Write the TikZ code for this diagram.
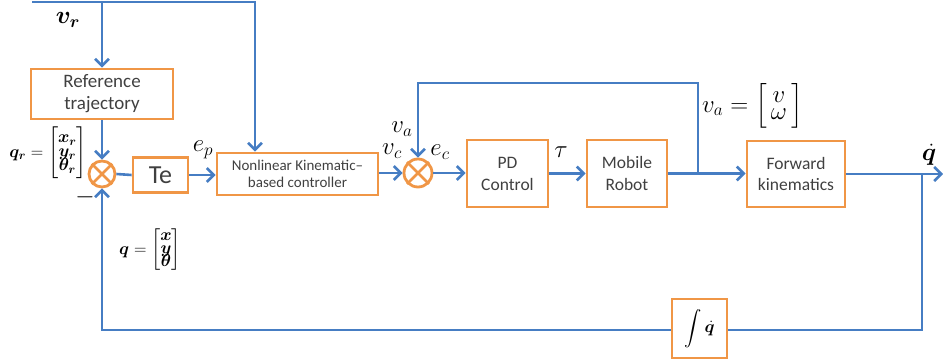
\documentclass[tikz,border=0pt]{standalone}
\usepackage{amsmath,bm}
\usepackage{fontspec}
\newfontfamily\boxfont{Carlito}
\usetikzlibrary{arrows.meta}
\definecolor{lnblue}{RGB}{70,125,195}
\definecolor{boxorange}{RGB}{240,150,70}
\definecolor{txtgray}{RGB}{64,64,64}
\tikzset{
  blk/.style={draw=boxorange,line width=2.8pt,rectangle,inner sep=0pt,align=center,text=txtgray,font=\boxfont},
  sumj/.style={draw=boxorange,line width=2.8pt,circle,inner sep=0pt,minimum size=26pt},
  wire/.style={draw=lnblue,line width=2.6pt},
  arr/.style={wire,-{Straight Barb[length=7pt,width=14pt,line width=2.6pt]}},
  lbl/.style={inner sep=0pt,font=\fontsize{23}{26}\selectfont}
}
\begin{document}
\begin{tikzpicture}[x=1pt,y=-1pt]
\useasboundingbox (0,0) rectangle (943,363);
% blocks
\node[blk,minimum width=142pt,minimum height=50pt,font=\boxfont\fontsize{19}{22}\selectfont] (ref) at (102,94) {Reference\\trajectory};
\node[sumj] (s1) at (102,174) {};
\node[blk,minimum width=55pt,minimum height=35pt,font=\boxfont\fontsize{26}{28}\selectfont] (te) at (160.5,175) {Te};
\node[blk,minimum width=161pt,minimum height=42pt,font=\boxfont\fontsize{15}{17}\selectfont] (nl) at (297.5,174) {Nonlinear Kinematic–\\based controller};
\node[sumj,minimum size=28pt] (s2) at (418,173) {};
\node[blk,minimum width=81pt,minimum height=67pt,font=\boxfont\fontsize{17.5}{22}\selectfont] (pd) at (507.5,173.5) {PD\\Control};
\node[blk,minimum width=80pt,minimum height=67pt,font=\boxfont\fontsize{17.5}{22}\selectfont] (mr) at (627,173.5) {Mobile\\Robot};
\node[blk,minimum width=98pt,minimum height=66pt,font=\boxfont\fontsize{17.5}{21}\selectfont] (fk) at (796,174) {Forward\\kinematics};
\node[blk,minimum width=55pt,minimum height=59pt,text=black,font=\fontsize{17}{20}\selectfont] (int) at (699.5,328.5) {$\displaystyle\int\dot{\bm q}$};
% crosses in summing junctions
\foreach \s in {s1,s2}{
  \draw[boxorange,line width=2.8pt] (\s.north east) -- (\s.south west) (\s.north west) -- (\s.south east);
}
% coordinates
\coordinate (vin) at (32,2);
\coordinate (tr) at (255,2);
\coordinate (bra) at (698,173.5);
\coordinate (top2) at (698,83);
\coordinate (qout) at (943,174);
\coordinate (brq) at (922,174);
\coordinate (bot) at (922,330);
% wires
\draw[arr] (vin) -- (tr) -- (tr |- nl.north);
\draw[arr] (ref.north |- vin) -- (ref.north);
\draw[arr] (ref.south) -- (s1.north);
\draw[wire] (s1.east) -- (te.west);
\draw[arr] (te.east) -- (te.east -| nl.west);
\draw[arr] (nl.east |- s2.west) -- (s2.west);
\draw[arr] (s2.east) -- (s2.east -| pd.west);
\draw[arr] (pd.east) -- (mr.west);
\draw[arr] (mr.east) -- (fk.west |- mr.east);
\draw[arr] (bra) -- (top2) -- (top2 -| s2.north) -- (s2.north);
\draw[arr] (fk.east) -- (qout);
\draw[wire] (brq) -- (bot) -- (int.east |- bot);
\draw[arr] (int.west |- bot) -- (s1.south |- bot) -- (s1.south);
% labels
\node[lbl] (lvr) at (68,20) {$\bm{v_r}$};
\node[lbl,anchor=east,font=\fontsize{17}{19}\selectfont] (lqr) at (87,153) {$\bm{q_r}=\begin{bmatrix}\bm{x_r}\\[-5pt]\bm{y_r}\\[-5pt]\bm{\theta_r}\end{bmatrix}$};
\node[lbl] (lminus) at (85,197) {$-$};
\node[lbl] (lep) at (203,150) {$e_p$};
\node[lbl] (lvc) at (392,151) {$v_c$};
\node[lbl] (lec) at (440,152) {$e_c$};
\node[lbl] (lva) at (402,129) {$v_a$};
\node[lbl] (ltau) at (561,152) {$\tau$};
\node[lbl,anchor=west,font=\fontsize{24}{26}\selectfont] (lva2) at (702,106) {$v_a=\begin{bmatrix}\,v\,\\[-9pt]\,\omega\,\end{bmatrix}$};
\node[lbl] (lqd) at (929,155) {$\dot{\bm q}$};
\node[lbl,anchor=west,font=\fontsize{17}{19}\selectfont] (lq) at (119,250) {$\bm{q}=\begin{bmatrix}\bm{x}\\[-6pt]\bm{y}\\[-6pt]\bm{\theta}\end{bmatrix}$};
\end{tikzpicture}
\end{document}
